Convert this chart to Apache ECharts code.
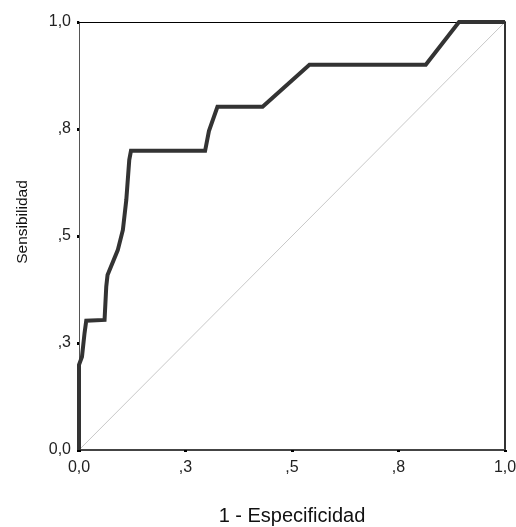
<!DOCTYPE html>
<html>
<head>
<meta charset="utf-8">
<script src="https://cdn.jsdelivr.net/npm/echarts@6/dist/echarts.min.js"></script>
<style>html,body{margin:0;padding:0;background:#fff;}#c{width:516px;height:527px;}</style>
</head>
<body>
<div id="c"></div>
<script>
// ROC curve points (1 - Especificidad, Sensibilidad)
const fpr = [0, 0, 0.007, 0.013, 0.017, 0.060, 0.064, 0.067, 0.091, 0.103, 0.111, 0.118, 0.122, 0.296, 0.305, 0.325, 0.431, 0.541, 0.814, 0.892, 1.0];
const tpr = [0, 0.199, 0.218, 0.273, 0.302, 0.304, 0.382, 0.409, 0.467, 0.514, 0.584, 0.678, 0.699, 0.699, 0.745, 0.802, 0.802, 0.900, 0.900, 1.0, 1.0];
// reference line
const refX = [0, 1];
const refY = [0, 1];
// tick values and labels
const tickValues = [0, 0.25, 0.5, 0.75, 1];
const tickLabels = ['0,0', ',3', ',5', ',8', '1,0'];
const xTitle = '1 - Especificidad';
const yTitle = 'Sensibilidad';

function lbl(v) {
  for (let i = 0; i < tickValues.length; i++) {
    if (Math.abs(v - tickValues[i]) < 1e-6) return tickLabels[i];
  }
  return '';
}

const chart = echarts.init(document.getElementById('c'), null, {renderer: 'canvas'});
const font = 'Liberation Sans, Arial, sans-serif';
chart.setOption({
  animation: false,
  backgroundColor: '#fff',
  grid: {left: 79, right: 11, top: 22, bottom: 77, containLabel: false, outerBoundsMode: 'none'},
  xAxis: [{
    type: 'value', min: 0, max: 1, interval: 0.25,
    name: xTitle, nameLocation: 'middle', nameGap: 56,
    nameTextStyle: {fontFamily: font, fontSize: 20, color: '#111'},
    axisLine: {show: true, onZero: false, lineStyle: {color: '#444', width: 2}},
    axisTick: {show: true, length: 2, lineStyle: {color: '#000', width: 3}},
    axisLabel: {formatter: lbl, fontFamily: font, fontSize: 16, color: '#222', margin: 10},
    splitLine: {show: false}
  }, {
    type: 'value', min: 0, max: 1, position: 'top',
    axisLine: {show: true, onZero: false, lineStyle: {color: '#000', width: 1}},
    axisTick: {show: false}, axisLabel: {show: false}, splitLine: {show: false}
  }],
  yAxis: [{
    type: 'value', min: 0, max: 1, interval: 0.25,
    name: yTitle, nameLocation: 'middle', nameGap: 48, nameRotate: 90,
    nameTextStyle: {fontFamily: font, fontSize: 15.5, color: '#111', padding: [0, 0, 0, 28]},
    axisLine: {show: true, onZero: false, lineStyle: {color: '#555', width: 1}},
    axisTick: {show: true, length: 2, lineStyle: {color: '#000', width: 3}},
    axisLabel: {formatter: lbl, fontFamily: font, fontSize: 16, color: '#222', margin: 8},
    splitLine: {show: false}
  }, {
    type: 'value', min: 0, max: 1, position: 'right',
    axisLine: {show: true, onZero: false, lineStyle: {color: '#333', width: 2}},
    axisTick: {show: false}, axisLabel: {show: false}, splitLine: {show: false}
  }],
  series: [{
    type: 'line',
    data: refX.map((x, i) => [x, refY[i]]),
    symbol: 'none',
    lineStyle: {color: '#c8c8c8', width: 1},
    z: 2
  }, {
    type: 'line',
    data: fpr.map((x, i) => [x, tpr[i]]),
    symbol: 'none',
    lineStyle: {color: '#333', width: 4, join: 'miter'},
    z: 3
  }]
});
</script>
</body>
</html>
